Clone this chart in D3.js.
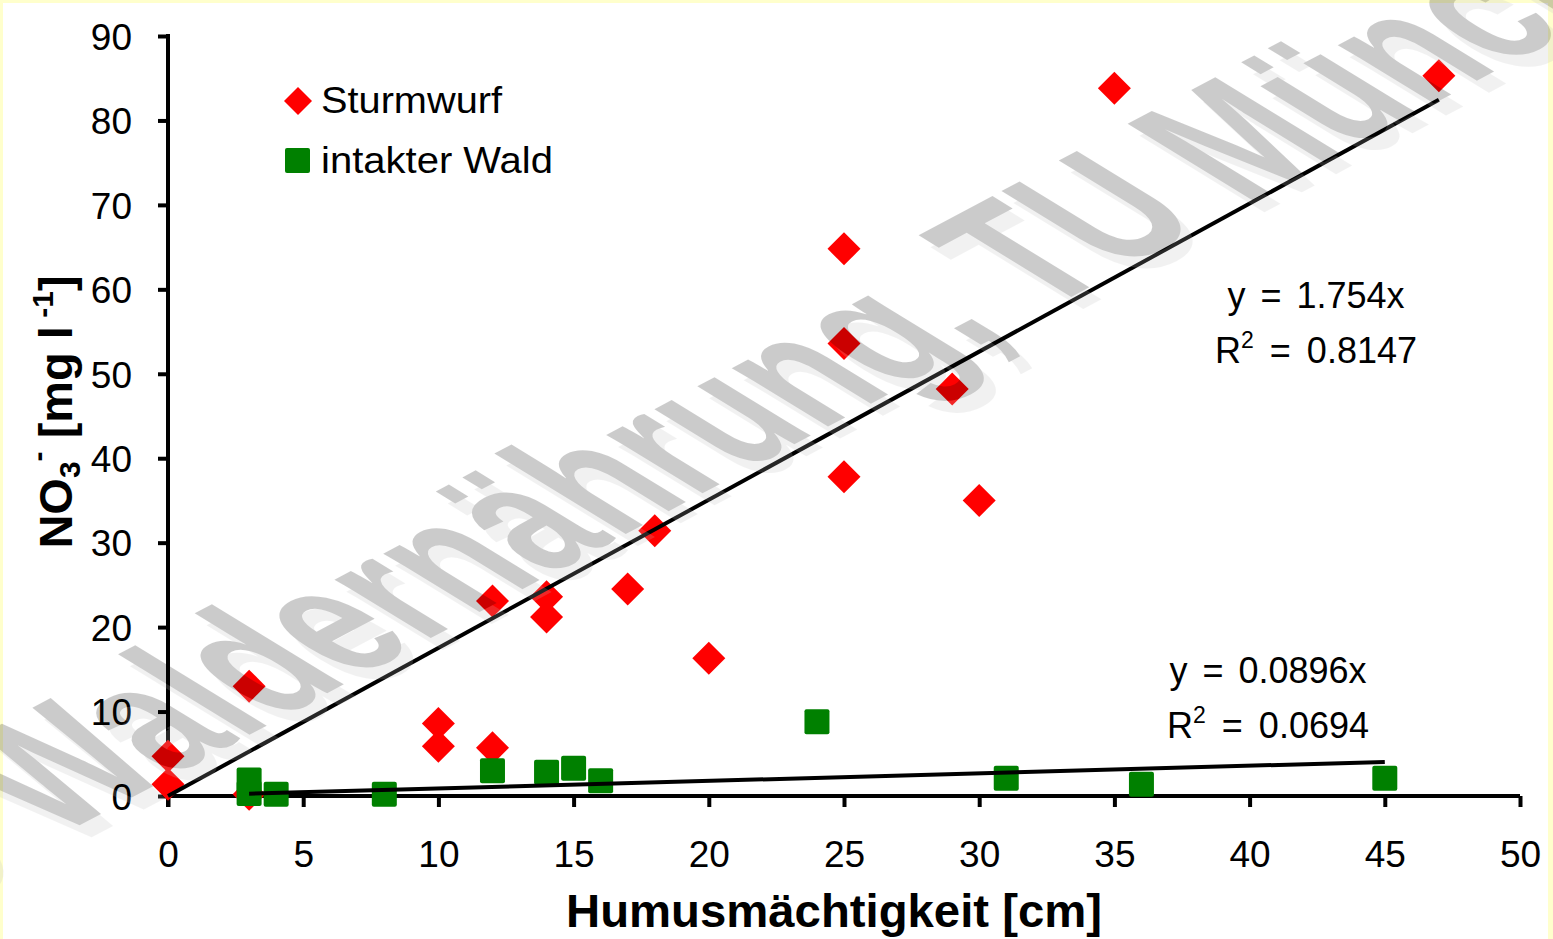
<!DOCTYPE html>
<html><head><meta charset="utf-8">
<script src="https://cdn.jsdelivr.net/npm/d3@7"></script>
<style>html,body{margin:0;padding:0;background:#fff;}svg{display:block;}</style>
</head><body>
<script>
// ---- data ----
const sturmX = [0, 0, 3, 3, 10, 10, 12, 12, 14, 14, 17, 18, 20, 25, 25, 25, 29, 30, 35, 47];
const sturmY = [1.4, 4.7, 13.0, 0.2, 8.6, 5.9, 5.7, 23.1, 23.6, 21.2, 24.5, 31.4, 16.3, 64.8, 53.6, 37.8, 48.2, 35.0, 83.8, 85.3];
const waldX = [3, 3, 4, 8, 12, 14, 15, 16, 24, 31, 36, 45];
const waldY = [1.9, 0.3, 0.2, 0.2, 3.0, 2.8, 3.3, 1.8, 8.8, 2.1, 1.4, 2.1];
const seriesNames = ["Sturmwurf", "intakter Wald"];
const slopes = [1.754, 0.0896];
const r2 = ["0.8147", "0.0694"];
const xTicks = [0, 5, 10, 15, 20, 25, 30, 35, 40, 45, 50];
const yTicks = [0, 10, 20, 30, 40, 50, 60, 70, 80, 90];
const xTitle = "Humusmächtigkeit [cm]";
const watermark = "© Waldernährung, TU München";

const W = 1553, H = 939;
const FONT = "'Liberation Sans', Arial, sans-serif";
const svg = d3.select("body").append("svg").attr("width", W).attr("height", H);

// frame
svg.append("rect").attr("width", W).attr("height", H).attr("fill", "#ffffcc");
svg.append("rect").attr("x", 3).attr("y", 3).attr("width", W - 8).attr("height", H - 3).attr("fill", "#fff");

const x = d3.scaleLinear().domain([0, 50]).range([168, 1520]);
const y = d3.scaleLinear().domain([0, 90]).range([796, 36]);

// axes
const xAxis = svg.append("g").attr("transform", `translate(0,${y(0)})`)
  .call(d3.axisBottom(x).tickValues(xTicks).tickSize(11).tickPadding(34).tickFormat(d3.format("d")));
const yAxis = svg.append("g").attr("transform", `translate(${x(0)},0)`)
  .call(d3.axisLeft(y).tickValues(yTicks).tickSize(10).tickPadding(26).tickFormat(d3.format("d")));
[xAxis, yAxis].forEach(a => {
  a.select(".domain").attr("stroke", "#000").attr("stroke-width", 4);
  a.selectAll(".tick line").attr("stroke", "#000").attr("stroke-width", 4);
  a.selectAll("text").attr("font-family", FONT).attr("font-size", 37).attr("fill", "#000");
});
xAxis.select(".domain").attr("d", `M${x(0)},0H${x(50)}`);
yAxis.select(".domain").attr("d", `M0,${y(90) - 2}V${y(0) + 11}`);
yAxis.selectAll(".tick text").attr("dy", "0.36em");

// markers
const diamond = (s) => `M0,${-s}L${s},0L0,${s}L${-s},0Z`;
svg.append("g").selectAll("path").data(sturmX.map((d, i) => [d, sturmY[i]])).join("path")
  .attr("d", diamond(16.5)).attr("fill", "#ff0000")
  .attr("transform", d => `translate(${x(d[0])},${y(d[1])})`);
svg.append("g").selectAll("rect").data(waldX.map((d, i) => [d, waldY[i]])).join("rect")
  .attr("x", d => x(d[0]) - 12.5).attr("y", d => y(d[1]) - 12.5)
  .attr("width", 25).attr("height", 25).attr("rx", 2).attr("fill", "#008000");

// trend lines (through origin, over each series' x range)
const line = d3.line().x(d => x(d[0])).y(d => y(d[1]));
[[sturmX, slopes[0]], [waldX, slopes[1]]].forEach(([xs, m]) => {
  const [a, b] = d3.extent(xs);
  svg.append("path").attr("d", line([[a, a * m], [b, b * m]]))
    .attr("stroke", "#000").attr("stroke-width", 4).attr("fill", "none");
});

// equations
function eq(xc, yb, m, r) {
  svg.append("text").attr("x", xc).attr("y", yb).attr("text-anchor", "middle")
    .attr("font-family", FONT).attr("font-size", 36).attr("word-spacing", 5)
    .text(`y = ${m}x`);
  const t = svg.append("text").attr("x", xc).attr("y", yb + 55).attr("text-anchor", "middle")
    .attr("font-family", FONT).attr("font-size", 36).attr("word-spacing", 6);
  t.append("tspan").text("R");
  t.append("tspan").attr("dy", -15).attr("font-size", 23).text("2");
  t.append("tspan").attr("dy", 15).text(" = " + r);
}
eq(1316, 308, slopes[0], r2[0]);
eq(1268, 683, slopes[1], r2[1]);

// legend
svg.append("path").attr("d", diamond(14)).attr("fill", "#ff0000").attr("transform", "translate(298,101)");
svg.append("rect").attr("x", 285).attr("y", 148).attr("width", 25).attr("height", 25).attr("rx", 2).attr("fill", "#008000");
svg.append("text").attr("x", 321).attr("y", 113).attr("font-family", FONT).attr("font-size", 36)
  .attr("textLength", 181).attr("lengthAdjust", "spacingAndGlyphs").text(seriesNames[0]);
svg.append("text").attr("x", 321).attr("y", 173).attr("font-family", FONT).attr("font-size", 36)
  .attr("textLength", 232).attr("lengthAdjust", "spacingAndGlyphs").text(seriesNames[1]);

// axis titles
svg.append("text").attr("x", 834).attr("y", 927).attr("text-anchor", "middle")
  .attr("font-family", FONT).attr("font-weight", "bold").attr("font-size", 46)
  .attr("textLength", 536).attr("lengthAdjust", "spacingAndGlyphs").text(xTitle);
const yt = svg.append("text").attr("transform", "translate(72,412) rotate(-90)").attr("text-anchor", "middle")
  .attr("font-family", FONT).attr("font-weight", "bold").attr("font-size", 47);
yt.append("tspan").text("NO");
yt.append("tspan").attr("font-size", 30).attr("dy", 8).text("3");
yt.append("tspan").attr("font-size", 30).attr("dy", -32).text("-");
yt.append("tspan").attr("dy", 24).text(" [mg l");
yt.append("tspan").attr("font-size", 30).attr("dy", -19).text(" -1");
yt.append("tspan").attr("dy", 19).text("]");

// watermark
const wm = svg.append("g").attr("opacity", 0.2);
const wmT = (dx, dy) => `translate(${-70 + dx},${905 + dy}) scale(1.75,1) rotate(-43) scale(1,1.55)`;
wm.append("text").attr("transform", wmT(12, 12)).attr("font-family", FONT).attr("font-weight", "bold")
  .attr("font-size", 98).attr("fill", "#bebebe").text(watermark);
wm.append("text").attr("transform", wmT(0, 0)).attr("font-family", FONT).attr("font-weight", "bold")
  .attr("font-size", 98).attr("fill", "#000").text(watermark);
</script>
</body></html>
